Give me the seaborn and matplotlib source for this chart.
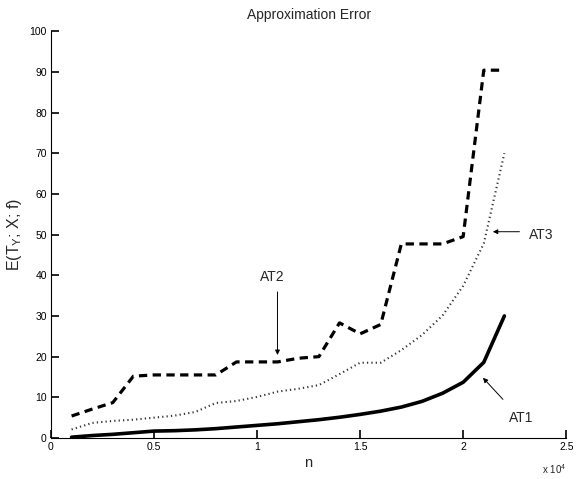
import pandas as pd
import matplotlib
matplotlib.use('Agg')
import matplotlib.pyplot as plt
import seaborn as sns
from matplotlib.ticker import FuncFormatter, MultipleLocator

# values
n = [1000, 2000, 3000, 4000, 5000, 6000, 7000, 8000, 9000, 10000, 11000,
     12000, 13000, 14000, 15000, 16000, 17000, 18000, 19000, 20000, 21000, 22000]
at1 = [0.2, 0.6, 0.9, 1.3, 1.7, 1.8, 2.0, 2.3, 2.7, 3.1, 3.5,
       4.0, 4.5, 5.1, 5.8, 6.6, 7.6, 9.0, 11.0, 13.7, 18.6, 30.0]
at2 = [5.4, 7.1, 8.7, 15.2, 15.5, 15.5, 15.5, 15.5, 18.7, 18.7, 18.7,
       19.6, 20.0, 28.3, 25.6, 27.9, 47.7, 47.7, 47.7, 49.5, 90.4, 90.4]
at3 = [2.1, 3.7, 4.2, 4.5, 5.0, 5.5, 6.4, 8.6, 9.1, 10.1, 11.4,
       12.1, 13.0, 15.7, 18.5, 18.5, 21.6, 25.3, 30.1, 37.4, 47.8, 70.0]

y_ticks = list(range(0, 101, 10))

sns.set_theme(style='ticks')
plt.rcParams['font.family'] = ['Liberation Sans', 'DejaVu Sans']
plt.rcParams['mathtext.fontset'] = 'custom'
plt.rcParams['mathtext.rm'] = 'Liberation Sans'

df = pd.DataFrame({'n': n, 'AT1': at1, 'AT2': at2, 'AT3': at3})

fig = plt.figure(figsize=(5.76, 4.79), dpi=100)
ax = fig.add_axes([0.0885, 0.0856, 0.8945, 0.8494])

sns.lineplot(data=df, x='n', y='AT3', ax=ax, color='#333333', lw=1.5,
             linestyle=(0, (0.6, 1.5)))
sns.lineplot(data=df, x='n', y='AT2', ax=ax, color='black', lw=2.3,
             linestyle=(0, (2.6, 1.7)))
sns.lineplot(data=df, x='n', y='AT1', ax=ax, color='black', lw=2.6)

ax.set_xlim(0, 25000)
ax.set_ylim(0, 100)
ax.xaxis.set_major_locator(MultipleLocator(5000))
ax.set_yticks(y_ticks)
ax.xaxis.set_major_formatter(FuncFormatter(lambda v, p: f'{v / 1e4:g}'))

sns.despine(ax=ax)
for s in ['left', 'bottom']:
    ax.spines[s].set_color('black')
    ax.spines[s].set_linewidth(0.8)
ax.tick_params(axis='both', which='major', direction='in', length=6,
               width=1.2, labelsize=7.5, color='black', labelcolor='black',
               pad=3, left=True, bottom=True)

ax.set_title('Approximation Error', fontsize=10, pad=9)
ax.set_xlabel('n', fontsize=10.5, labelpad=3)
ax.set_ylabel(r'E(T$_\mathrm{Y}$; X; f)', fontsize=11.5, labelpad=4)
ax.text(1.0, -0.076, r'x 10$^4$', transform=ax.transAxes, ha='right',
        va='center', fontsize=7)

arrow = dict(arrowstyle='-|>', color='black', lw=0.7,
             mutation_scale=7, shrinkA=0, shrinkB=0)
ax.text(10760, 39.6, 'AT2', ha='center', va='center', fontsize=10)
ax.annotate('', xy=(10990, 20.4), xytext=(10990, 35.9), arrowprops=arrow)
ax.text(23810, 50.0, 'AT3', ha='center', va='center', fontsize=10)
ax.annotate('', xy=(21440, 50.7), xytext=(22730, 50.7), arrowprops=arrow)
ax.text(22790, 4.9, 'AT1', ha='center', va='center', fontsize=10)
ax.annotate('', xy=(20960, 14.8), xytext=(21930, 9.5), arrowprops=arrow)

fig.savefig('out.png', dpi=100)
